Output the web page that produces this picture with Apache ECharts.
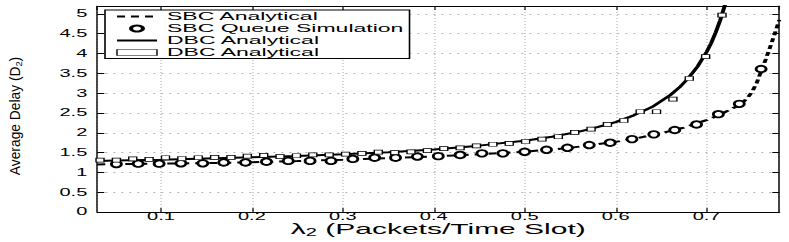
<!DOCTYPE html>
<html>
<head>
<meta charset="utf-8">
<script src="https://cdn.jsdelivr.net/npm/echarts@6/dist/echarts.min.js"></script>
<style>
html,body{margin:0;padding:0;background:#fff;overflow:hidden;}
#wrap{width:789px;height:242px;overflow:hidden;}
#c{width:394.5px;height:242px;transform:scaleX(2);transform-origin:0 0;}
</style>
</head>
<body>
<div id="wrap"><div id="c"></div></div>
<script>
// ---- data ----
const sbcLineX = [0.03, 0.1, 0.15, 0.2, 0.25, 0.3, 0.35, 0.4, 0.45, 0.5, 0.55, 0.6, 0.625, 0.65, 0.675, 0.7, 0.71, 0.72, 0.73, 0.74, 0.745, 0.75, 0.755, 0.76, 0.765, 0.77, 0.775, 0.78];
const sbcLineY = [1.20, 1.22, 1.235, 1.255, 1.285, 1.32, 1.36, 1.40, 1.46, 1.52, 1.62, 1.77, 1.87, 1.99, 2.13, 2.32, 2.41, 2.52, 2.63, 2.77, 2.88, 3.03, 3.25, 3.55, 3.85, 4.17, 4.50, 4.85];

const sbcSimX = [0.051, 0.075, 0.098, 0.122, 0.146, 0.169, 0.193, 0.216, 0.240, 0.264, 0.287, 0.311, 0.335, 0.358, 0.382, 0.405, 0.429, 0.453, 0.476, 0.500, 0.524, 0.547, 0.571, 0.594, 0.618, 0.642, 0.665, 0.689, 0.713, 0.736, 0.760];
const sbcSimY = [1.21, 1.22, 1.22, 1.23, 1.23, 1.25, 1.25, 1.27, 1.29, 1.29, 1.29, 1.34, 1.37, 1.37, 1.40, 1.41, 1.44, 1.48, 1.48, 1.52, 1.57, 1.62, 1.69, 1.75, 1.84, 1.96, 2.07, 2.21, 2.47, 2.73, 3.61];

const dbcLineX = [0.03, 0.05, 0.1, 0.15, 0.2, 0.25, 0.3, 0.35, 0.4, 0.45, 0.5, 0.53, 0.56, 0.58, 0.6, 0.62, 0.64, 0.66, 0.67, 0.68, 0.69, 0.7, 0.705, 0.71, 0.715, 0.72, 0.725];
const dbcLineY = [1.29, 1.30, 1.32, 1.35, 1.38, 1.415, 1.46, 1.51, 1.58, 1.675, 1.80, 1.90, 2.03, 2.14, 2.27, 2.44, 2.65, 2.95, 3.14, 3.38, 3.67, 4.04, 4.26, 4.53, 4.84, 5.21, 5.65];

const dbcPtsX = [0.033, 0.051, 0.069, 0.087, 0.105, 0.123, 0.141, 0.159, 0.177, 0.195, 0.213, 0.231, 0.249, 0.267, 0.285, 0.303, 0.321, 0.339, 0.357, 0.375, 0.393, 0.411, 0.429, 0.447, 0.465, 0.483, 0.501, 0.519, 0.537, 0.555, 0.573, 0.591, 0.609, 0.627, 0.645, 0.663, 0.681, 0.699, 0.717];
const dbcPtsY = [1.31, 1.31, 1.34, 1.33, 1.37, 1.35, 1.37, 1.38, 1.38, 1.41, 1.43, 1.40, 1.42, 1.44, 1.44, 1.46, 1.48, 1.51, 1.50, 1.52, 1.55, 1.60, 1.62, 1.67, 1.71, 1.73, 1.78, 1.84, 1.90, 2.01, 2.09, 2.21, 2.31, 2.53, 2.53, 2.85, 3.37, 3.92, 4.97];

const seriesNames = ['SBC Analytical', 'SBC Queue Simulation', 'DBC Analytical', 'DBC Analytical '];
const xAxisTitle = 'λ{s|2} (Packets/Time Slot)';
const yAxisTitle = 'Average Delay (D{s|2})';

const zip = (xs, ys) => xs.map((x, i) => [x, ys[i]]);

const FONT = 'Liberation Sans, Arial, Helvetica, sans-serif';
const chart = echarts.init(document.getElementById('c'), null, {renderer: 'svg', width: 394.5, height: 242});

const option = {
  animation: false,
  backgroundColor: '#fff',
  textStyle: {fontFamily: FONT},
  grid: {left: 48.65, right: 4.85, top: 6, bottom: 30, containLabel: false, outerBoundsMode: 'none'},
  xAxis: [
    {
      type: 'value', position: 'bottom', min: 0.03, max: 0.78, splitNumber: 8,
      axisLine: {show: true, onZero: false, lineStyle: {color: '#000', width: 1}},
      axisTick: {show: true, inside: true, length: 4, lineStyle: {color: '#000', width: 0.6}},
      axisLabel: {showMinLabel: false, showMaxLabel: false, fontSize: 10, lineHeight: 8, color: '#000', margin: 1, fontFamily: FONT},
      splitLine: {show: true, lineStyle: {color: '#b4b4b4', type: [1, 2], width: 0.6}},
      name: xAxisTitle, nameLocation: 'middle', nameGap: 11, nameMoveOverlap: false,
      nameTextStyle: {fontSize: 15, lineHeight: 12, color: '#000', fontFamily: FONT,
        rich: {s: {fontSize: 10, lineHeight: 10, padding: [7, 0, 0, 0], fontFamily: FONT, color: '#000'}}}
    },
    {
      type: 'value', position: 'top', min: 0.03, max: 0.78, splitNumber: 8,
      axisLine: {show: true, onZero: false, lineStyle: {color: '#000', width: 1}},
      axisTick: {show: true, inside: true, length: 4, lineStyle: {color: '#000', width: 0.6}},
      axisLabel: {show: false}, splitLine: {show: false}
    }
  ],
  yAxis: [
    {
      type: 'value', position: 'left', min: 0, max: 5.2, interval: 0.5,
      axisLine: {show: true, onZero: false, lineStyle: {color: '#000', width: 0.7}},
      axisTick: {show: true, inside: true, length: 3.5, lineStyle: {color: '#000', width: 1}},
      axisLabel: {showMaxLabel: false, fontSize: 10, color: '#000', margin: 5, fontFamily: FONT},
      splitLine: {show: true, lineStyle: {color: '#b4b4b4', type: [1, 3], width: 1}}
    },
    {
      type: 'value', position: 'right', min: 0, max: 5.2, interval: 0.5,
      axisLine: {show: true, onZero: false, lineStyle: {color: '#444', width: 1}},
      axisTick: {show: true, inside: true, length: 3.5, lineStyle: {color: '#000', width: 1}},
      axisLabel: {show: false}, splitLine: {show: false}
    }
  ],
  legend: {
    orient: 'vertical', left: 52.5, top: 10,
    backgroundColor: '#fff', borderColor: '#000', borderWidth: 0.8,
    padding: [0.5, 3, 0, 5], itemGap: 0, itemWidth: 20, itemHeight: 6,
    textStyle: {fontSize: 11.5, color: '#000', lineHeight: 11.7, fontFamily: FONT},
    data: [
      {name: seriesNames[0], itemStyle: {opacity: 0}},
      {name: seriesNames[1]},
      {name: seriesNames[2], itemStyle: {opacity: 0}},
      {name: seriesNames[3], icon: 'rect', itemStyle: {color: '#fff', borderColor: '#000', borderWidth: 0.7}}
    ]
  },
  graphic: [{
    type: 'text', x: 7.3, y: 116, rotation: Math.PI / 2, scaleX: 1.15, scaleY: 0.62,
    style: {text: yAxisTitle, fontSize: 12, fontFamily: FONT, fill: '#000', align: 'center', verticalAlign: 'middle',
      rich: {s: {fontSize: 8, padding: [6, 0, 0, 0], fontFamily: FONT, fill: '#000'}}}
  }],
  series: [
    {name: seriesNames[0], type: 'line', data: zip(sbcLineX, sbcLineY), symbol: 'none', smooth: false,
      lineStyle: {color: '#000', width: 2, type: [4, 3]}, itemStyle: {color: '#000'}, clip: true, z: 3},
    {name: seriesNames[1], type: 'scatter', data: zip(sbcSimX, sbcSimY), symbol: 'circle', symbolSize: [5, 6.5],
      itemStyle: {color: '#fff', borderColor: '#000', borderWidth: 1.6, opacity: 1}, z: 4},
    {name: seriesNames[2], type: 'line', data: zip(dbcLineX, dbcLineY), symbol: 'none', smooth: false,
      lineStyle: {color: '#000', width: 2}, itemStyle: {color: '#000'}, clip: true, z: 3},
    {name: seriesNames[3], type: 'scatter', data: zip(dbcPtsX, dbcPtsY), symbol: 'rect', symbolSize: [4, 4],
      itemStyle: {color: '#fff', borderColor: '#000', borderWidth: 0.7, opacity: 1}, z: 4, clip: true}
  ]
};
chart.setOption(option);
</script>
</body>
</html>
